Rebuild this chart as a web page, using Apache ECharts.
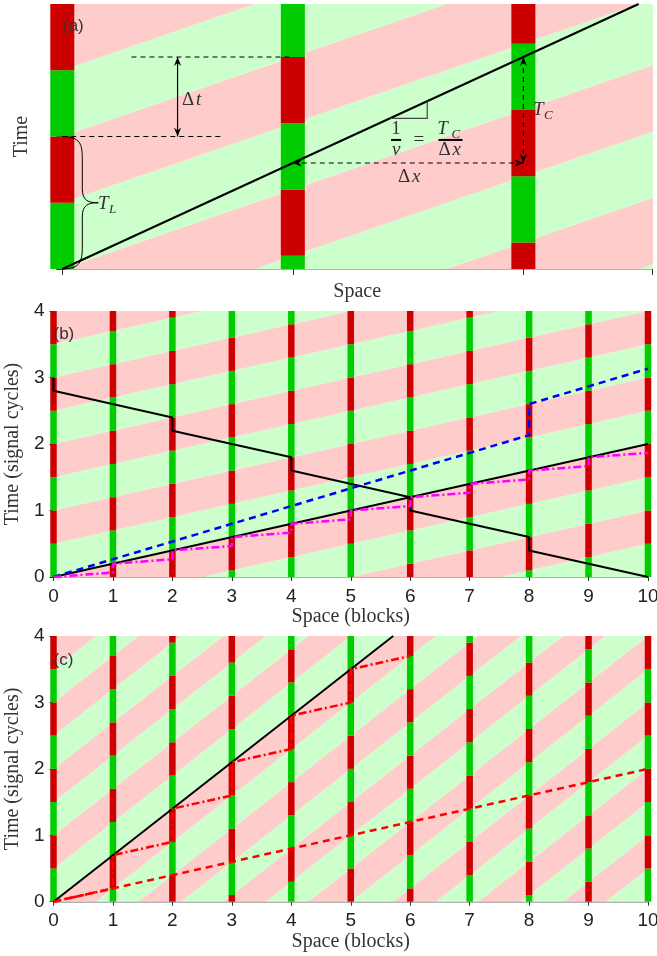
<!DOCTYPE html>
<html>
<head>
<meta charset="utf-8">
<script src="https://cdn.jsdelivr.net/npm/echarts@6/dist/echarts.min.js"></script>
<style>
html, body { margin: 0; padding: 0; background: #fff; }
#chart { width: 657px; height: 956px; }
</style>
</head>
<body>
<div id="chart"></div>
<script>
// ---- panel (a): schematic ----
var barsA_x = [0, 1, 2];
var barsA_green = [0, 0.6, 0.2];      // start of green phase at each light (cycles)
var waveSlopeA = 0.6;                 // background wave: phase shift per unit space
var vehicleA = [[0, 0], [2.5, 2]];
var dashTopA = [[0.3, 1.6], [1, 1.6]];
var dashMidA = [[0, 1], [0.7, 1]];
var arrowDtA = [[0.5, 1], [0.5, 1.6]];
var arrowDxA = [[1, 0.8], [2, 0.8]];
var arrowTcA = [[2, 0.8], [2, 1.6]];
var slopeTriA = [[1.422, 1.137], [1.583, 1.137], [1.583, 1.267]];
var braceA = [[0, 1], [0, 0]];

// ---- panel (b) ----
var blocks = [0, 1, 2, 3, 4, 5, 6, 7, 8, 9, 10];
var barsB_green = [0, 0.2, 0.4, 0.6, 0.8, 0, 0.2, 0.4, 0.6, 0.8, 0];
var waveSlopeB = 0.2;
var blackUpB = [[0, 0], [10, 2]];
var blackDownB = [[0, 3], [0, 2.8], [2, 2.4], [2, 2.2], [4, 1.8], [4, 1.6], [6, 1.2], [6, 1.0], [8, 0.6], [8, 0.4], [10, 0]];
var blueB = [[0, 0], [8, 2.133], [8, 2.6], [10, 3.133]];
var magentaB = [[0, 0], [1, 0.067], [1, 0.2], [2, 0.267], [2, 0.4], [3, 0.467], [3, 0.6], [4, 0.667], [4, 0.8],
  [5, 0.867], [5, 1.0], [6, 1.067], [6, 1.2], [7, 1.267], [7, 1.4], [8, 1.467], [8, 1.6], [9, 1.667], [9, 1.8], [10, 1.867]];

// ---- panel (c) ----
var barsC_green = [0, 0.7, 0.4, 0.1, 0.8, 0.5, 0.2, 0.9, 0.6, 0.3, 0];
var waveSlopeC = 0.7;
var blackC = [[0, 0], [5.714, 4]];
var redDashC = [[0, 0], [10, 2]];
var redDashDotC = [[0, 0], [1, 0.2], [1, 0.7], [2, 0.9], [2, 1.4], [3, 1.6], [3, 2.1], [4, 2.3], [4, 2.8], [5, 3.0], [5, 3.5], [6, 3.7]];

var GREEN_BG = '#ccffcc', RED_BG = '#ffcccc', GREEN = '#00cc00', RED = '#cc0000';
var SERIF = '"Liberation Serif", "DejaVu Serif", serif';
var SANS = '"Liberation Sans", Arial, sans-serif';

function bandSeries(gi, slope, xmin, xmax, tmin, tmax) {
  var data = [];
  var kmin = Math.floor((tmin - slope * xmax) * 2) - 2;
  var kmax = Math.ceil((tmax - slope * xmin) * 2) + 2;
  for (var k = kmin; k <= kmax; k++) data.push([k]);
  return {
    type: 'custom', xAxisIndex: gi, yAxisIndex: gi, clip: true, silent: true, z: 1,
    data: data,
    renderItem: function (params, api) {
      var k = api.value(0), p0 = k / 2, p1 = (k + 1) / 2;
      var a = xmin - 0.2, b = xmax + 0.2;
      var pts = [api.coord([a, p0 + slope * a]), api.coord([b, p0 + slope * b]),
                 api.coord([b, p1 + slope * b]), api.coord([a, p1 + slope * a])];
      var even = ((k % 2) + 2) % 2 === 0;
      return { type: 'polygon', shape: { points: pts }, style: { fill: even ? GREEN_BG : RED_BG } };
    }
  };
}

function barSeries(gi, xs, starts, w, tmin, tmax) {
  return {
    type: 'custom', xAxisIndex: gi, yAxisIndex: gi, clip: false, silent: true, z: 2,
    data: xs.map(function (x, i) { return [x, starts[i]]; }),
    renderItem: function (params, api) {
      var x = api.value(0), s = api.value(1), kids = [];
      for (var j = Math.floor((tmin - s) * 2) - 1; j <= Math.ceil((tmax - s) * 2); j++) {
        var t0 = Math.max(tmin, s + j / 2), t1 = Math.min(tmax, s + j / 2 + 0.5);
        if (t1 <= t0) continue;
        var top = api.coord([x, t1]), bot = api.coord([x, t0]);
        kids.push({ type: 'rect', shape: { x: top[0] - w / 2, y: top[1], width: w, height: bot[1] - top[1] },
                    style: { fill: (((j % 2) + 2) % 2 === 0) ? GREEN : RED } });
      }
      return { type: 'group', children: kids };
    }
  };
}

function lineSeries(gi, data, color, width, type) {
  return { type: 'line', xAxisIndex: gi, yAxisIndex: gi, data: data, symbol: 'none', silent: true, z: 5,
           lineStyle: { color: color, width: width, type: type } };
}

function tag(gi, txt, at) {
  return { type: 'custom', xAxisIndex: gi, yAxisIndex: gi, data: [at], z: 6, silent: true,
    renderItem: function (params, api) {
      var p = api.coord([api.value(0), api.value(1)]);
      return { type: 'text', x: p[0], y: p[1],
               style: { text: txt, font: '17px ' + SANS, fill: '#333', align: 'left', verticalAlign: 'middle' } };
    } };
}

function arrowHead(tip, from) {
  var dx = tip[0] - from[0], dy = tip[1] - from[1], L = Math.sqrt(dx * dx + dy * dy);
  var ux = dx / L, uy = dy / L, px = -uy, py = ux, len = 9, hw = 3.6, notch = 3;
  return { type: 'polygon', shape: { points: [
    tip,
    [tip[0] - ux * len + px * hw, tip[1] - uy * len + py * hw],
    [tip[0] - ux * (len - notch), tip[1] - uy * (len - notch)],
    [tip[0] - ux * len - px * hw, tip[1] - uy * len - py * hw]] }, style: { fill: '#000' } };
}

var annotationsA = {
  type: 'custom', xAxisIndex: 0, yAxisIndex: 0, data: [[0]], z: 6, silent: true, clip: false,
  renderItem: function (params, api) {
    var c = function (p) { return api.coord(p); };
    var kids = [];
    function seg(pts, dash, color, w) {
      kids.push({ type: 'polyline', shape: { points: pts.map(c) },
                  style: { stroke: color, lineWidth: w, lineDash: dash, fill: null } });
    }
    function dblArrow(pts, dash) {
      var a = c(pts[0]), b = c(pts[1]);
      seg(pts, dash, '#000', 1.2);
      kids.push(arrowHead(a, b));
      kids.push(arrowHead(b, a));
    }
    function txt(s, p, dx, dy, font, align) {
      kids.push({ type: 'text', x: p[0] + dx, y: p[1] + dy,
                  style: { text: s, font: font, fill: '#333', align: align || 'left', verticalAlign: 'middle' } });
    }
    var IT = 'italic 19px ' + SERIF, RM = '19px ' + SERIF, SUB = 'italic 13px ' + SERIF;

    seg(dashTopA, [5, 4], '#000', 1);
    seg(dashMidA, [5, 4], '#000', 1);
    dblArrow(arrowDtA, null);
    dblArrow(arrowDxA, [5, 4]);
    dblArrow(arrowTcA, [5, 4]);
    seg(slopeTriA, null, '#444', 1.2);

    // brace T_L
    var t = c(braceA[0]), b = c(braceA[1]), ym = (t[1] + b[1]) / 2, x0 = t[0];
    var d = 'M' + x0 + ',' + t[1] +
      ' C' + (x0 + 18) + ',' + t[1] + ' ' + (x0 + 20) + ',' + (t[1] + 8) + ' ' + (x0 + 20) + ',' + (t[1] + 22) +
      ' L' + (x0 + 20) + ',' + (ym - 14) +
      ' C' + (x0 + 20) + ',' + (ym - 2) + ' ' + (x0 + 26) + ',' + ym + ' ' + (x0 + 36) + ',' + ym +
      ' C' + (x0 + 26) + ',' + ym + ' ' + (x0 + 20) + ',' + (ym + 2) + ' ' + (x0 + 20) + ',' + (ym + 14) +
      ' L' + (x0 + 20) + ',' + (b[1] - 22) +
      ' C' + (x0 + 20) + ',' + (b[1] - 8) + ' ' + (x0 + 18) + ',' + b[1] + ' ' + x0 + ',' + b[1];
    kids.push({ type: 'path', shape: { pathData: d }, style: { stroke: '#000', lineWidth: 1, fill: null } });

    // labels
    var pDt = c([0.519, 1.275]);
    txt('\u0394', pDt, 0, 0, RM); txt('t', pDt, 14, 0, IT);
    var pDx = c([1.456, 0.694]);
    txt('\u0394', pDx, 0, 0, RM); txt('x', pDx, 14, 0, IT);
    var pTc = c([2.042, 1.2]);
    txt('T', pTc, 0, 0, IT); txt('C', pTc, 11, 6, SUB);
    var pTl = c([0.155, 0.49]);
    txt('T', pTl, 0, 0, IT); txt('L', pTl, 11, 6, SUB);

    // 1/v = T_C / Δx
    var f1 = c([1.448, 0.974]), fe = c([1.547, 0.974]), f2 = c([1.684, 0.974]);
    txt('1', f1, 0, -11, RM, 'center');
    kids.push({ type: 'line', shape: { x1: f1[0] - 5, y1: f1[1], x2: f1[0] + 5, y2: f1[1] }, style: { stroke: '#000', lineWidth: 2 } });
    txt('v', f1, 0, 10, IT, 'center');
    txt('=', fe, 0, 0, RM, 'center');
    txt('T', f2, -8, -11, IT, 'center'); txt('C', f2, 1, -5, SUB, 'left');
    kids.push({ type: 'line', shape: { x1: f2[0] - 12, y1: f2[1], x2: f2[0] + 12, y2: f2[1] }, style: { stroke: '#000', lineWidth: 2 } });
    txt('\u0394', f2, -12, 10, RM, 'left'); txt('x', f2, 2, 10, IT, 'left');
    return { type: 'group', children: kids };
  }
};

function xAxisCfg(gi, max, name, labels, gap) {
  return { gridIndex: gi, type: 'value', min: 0, max: max, interval: 1, name: name, nameLocation: 'middle', nameGap: gap,
    nameTextStyle: { fontFamily: SERIF, fontSize: 20, color: '#333' },
    axisLine: { show: true, lineStyle: { color: '#999', width: 1.5 } },
    axisTick: { show: true, inside: false, length: labels ? 4 : 6, lineStyle: { color: '#333' } },
    axisLabel: { show: labels, fontFamily: SANS, fontSize: 19, color: '#222', margin: 10 },
    splitLine: { show: false } };
}
function yAxisCfg(gi, max, name, labels, gap, offset) {
  return { gridIndex: gi, type: 'value', min: 0, max: max, interval: 1, name: name, nameLocation: 'middle', nameGap: gap,
    offset: offset || 0,
    nameTextStyle: { fontFamily: SERIF, fontSize: 20, color: '#333' },
    axisLine: { show: false },
    axisTick: { show: true, inside: false, length: labels ? 4 : 6, lineStyle: { color: '#333' } },
    axisLabel: { show: labels, fontFamily: SANS, fontSize: 19, color: '#222', margin: 9 },
    splitLine: { show: false } };
}

var chart = echarts.init(document.getElementById('chart'));
chart.setOption({
  animation: false,
  backgroundColor: '#fff',
  grid: [
    { left: 62.3, top: 4, width: 589.7, height: 265, containLabel: false, outerBoundsMode: 'none' },
    { left: 53.5, top: 311, width: 594.5, height: 266, containLabel: false, outerBoundsMode: 'none' },
    { left: 53.5, top: 636, width: 594.5, height: 265.7, containLabel: false, outerBoundsMode: 'none' }
  ],
  xAxis: [
    xAxisCfg(0, 2.558, 'Space', false, 13),
    xAxisCfg(1, 10, 'Space (blocks)', true, 26),
    xAxisCfg(2, 10, 'Space (blocks)', true, 27)
  ],
  yAxis: [
    yAxisCfg(0, 2, 'Time', false, 18, 12.3),
    yAxisCfg(1, 4, 'Time (signal cycles)', true, 31),
    yAxisCfg(2, 4, 'Time (signal cycles)', true, 31)
  ],
  series: [
    bandSeries(0, waveSlopeA, 0, 2.558, 0, 2),
    barSeries(0, barsA_x, barsA_green, 24, 0, 2),
    lineSeries(0, vehicleA, '#000', 2, 'solid'),
    annotationsA,
    tag(0, '(a)', [0.003, 1.83]),

    bandSeries(1, waveSlopeB, 0, 10, 0, 4),
    barSeries(1, blocks, barsB_green, 6.5, 0, 4),
    lineSeries(1, blackUpB, '#000', 2, 'solid'),
    lineSeries(1, blackDownB, '#000', 2, 'solid'),
    lineSeries(1, blueB, '#0000ff', 2.5, [7, 5]),
    lineSeries(1, magentaB, '#ff00ff', 2.5, [8, 3, 2, 3]),
    tag(1, '(b)', [0, 3.65]),

    bandSeries(2, waveSlopeC, 0, 10, 0, 4),
    barSeries(2, blocks, barsC_green, 6.5, 0, 4),
    lineSeries(2, blackC, '#000', 2, 'solid'),
    lineSeries(2, redDashC, '#ff0000', 2.5, [7, 5]),
    lineSeries(2, redDashDotC, '#ff0000', 2.5, [8, 3, 2, 3]),
    tag(2, '(c)', [0, 3.64])
  ]
});
</script>
</body>
</html>
